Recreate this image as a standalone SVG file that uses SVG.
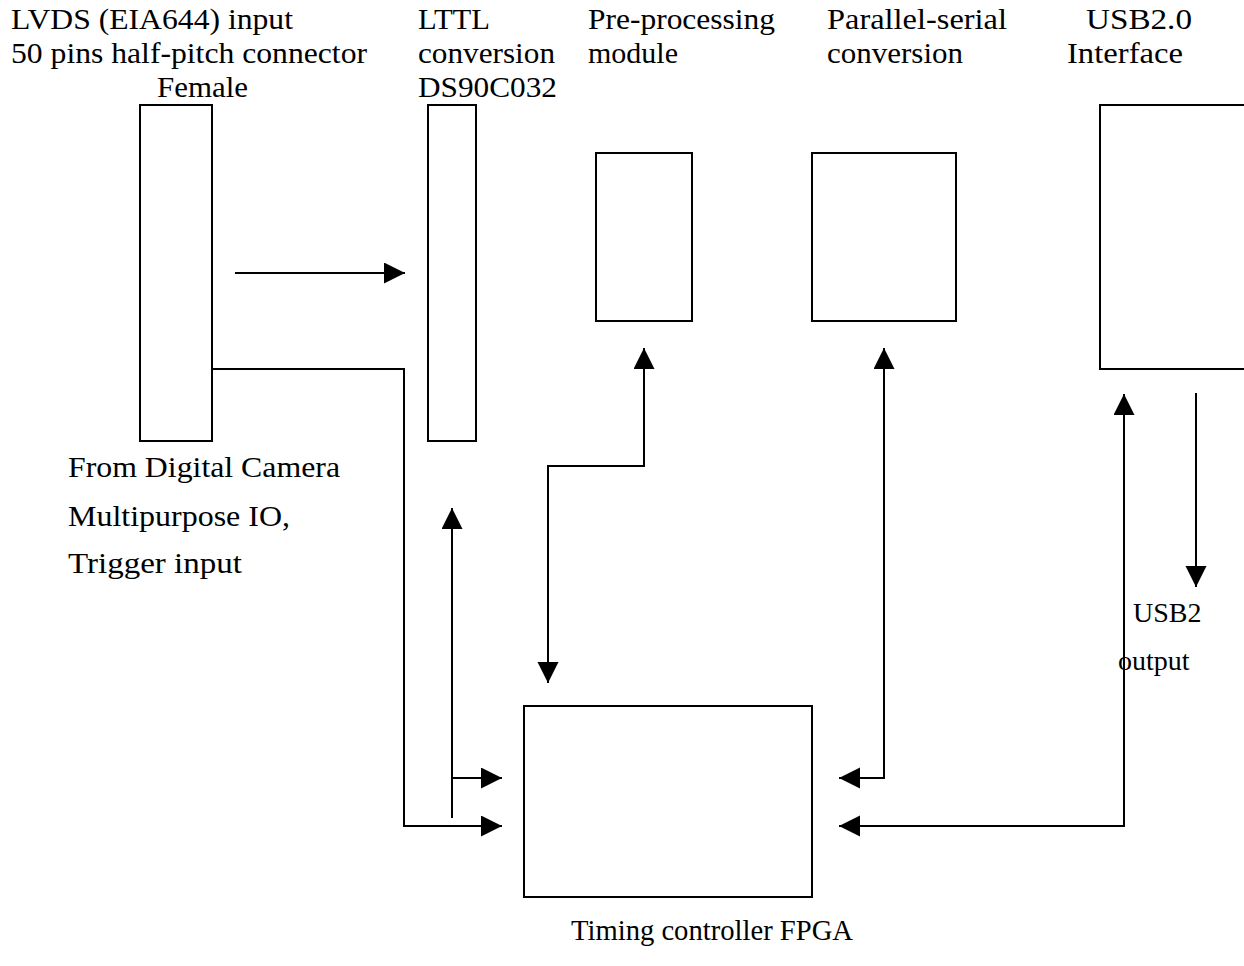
<svg xmlns="http://www.w3.org/2000/svg" width="1244" height="966" viewBox="0 0 1244 966">
<style>
.box{fill:#fff;stroke:#000;stroke-width:2}
.ln{fill:none;stroke:#000;stroke-width:2}
.t{font-family:"Liberation Serif","Times New Roman",serif;font-size:29px;fill:#000}
.s{font-family:"Liberation Serif","Times New Roman",serif;font-size:28px;fill:#000}
</style>
<defs>
<marker id="ah" markerUnits="userSpaceOnUse" markerWidth="22" markerHeight="22" refX="21" refY="10.5" orient="auto-start-reverse">
<path d="M0,0 L21,10.5 L0,21 z" fill="#000"/>
</marker>
</defs>
<rect width="1244" height="966" fill="#fff"/>
<g id="connector">
<rect class="box" x="140" y="105" width="72" height="336"/>
<text class="t" x="11" y="29" textLength="282" lengthAdjust="spacingAndGlyphs">LVDS (EIA644) input</text>
<text class="t" x="11" y="63" textLength="356" lengthAdjust="spacingAndGlyphs">50 pins half-pitch connector</text>
<text class="t" x="157" y="97" textLength="91" lengthAdjust="spacingAndGlyphs">Female</text>
<text class="t" x="68" y="477" textLength="272" lengthAdjust="spacingAndGlyphs">From Digital Camera</text>
<text class="t" x="68" y="526" textLength="222" lengthAdjust="spacingAndGlyphs">Multipurpose IO,</text>
<text class="t" x="68" y="573" textLength="174" lengthAdjust="spacingAndGlyphs">Trigger input</text>
</g>
<g id="lttl">
<rect class="box" x="428" y="105" width="48" height="336"/>
<text class="t" x="418" y="29" textLength="72" lengthAdjust="spacingAndGlyphs">LTTL</text>
<text class="t" x="418" y="63" textLength="137" lengthAdjust="spacingAndGlyphs">conversion</text>
<text class="t" x="418" y="97" textLength="139" lengthAdjust="spacingAndGlyphs">DS90C032</text>
</g>
<g id="preprocessing">
<rect class="box" x="596" y="153" width="96" height="168"/>
<text class="t" x="588" y="29" textLength="187" lengthAdjust="spacingAndGlyphs">Pre-processing</text>
<text class="t" x="588" y="63" textLength="90" lengthAdjust="spacingAndGlyphs">module</text>
</g>
<g id="parallelserial">
<rect class="box" x="812" y="153" width="144" height="168"/>
<text class="t" x="827" y="29" textLength="180" lengthAdjust="spacingAndGlyphs">Parallel-serial</text>
<text class="t" x="827" y="63" textLength="136" lengthAdjust="spacingAndGlyphs">conversion</text>
</g>
<g id="usb">
<rect class="box" x="1100" y="105" width="146" height="264"/>
<text class="t" x="1086" y="29" textLength="106" lengthAdjust="spacingAndGlyphs">USB2.0</text>
<text class="t" x="1067" y="63" textLength="116" lengthAdjust="spacingAndGlyphs">Interface</text>
</g>
<g id="fpga">
<rect class="box" x="524" y="706" width="288" height="191"/>
<text class="t" x="571" y="940" textLength="282" lengthAdjust="spacingAndGlyphs">Timing controller FPGA</text>
</g>
<g id="connectors">
<path class="ln" d="M235,273 H405" marker-end="url(#ah)"/>
<path class="ln" d="M212,369 H404 V826 H502" marker-end="url(#ah)"/>
<path class="ln" d="M452,818 V508" marker-end="url(#ah)"/>
<path class="ln" d="M452,778 H502" marker-end="url(#ah)"/>
<path class="ln" d="M644,348 V466 H548 V683" marker-start="url(#ah)" marker-end="url(#ah)"/>
<path class="ln" d="M884,348 V778 H839" marker-start="url(#ah)" marker-end="url(#ah)"/>
<path class="ln" d="M1124,394 V826 H839" marker-start="url(#ah)" marker-end="url(#ah)"/>
<path class="ln" d="M1196,393 V587" marker-end="url(#ah)"/>
<text class="s" x="1133" y="622">USB2</text>
<text class="s" x="1118" y="670">output</text>
</g>
</svg>
